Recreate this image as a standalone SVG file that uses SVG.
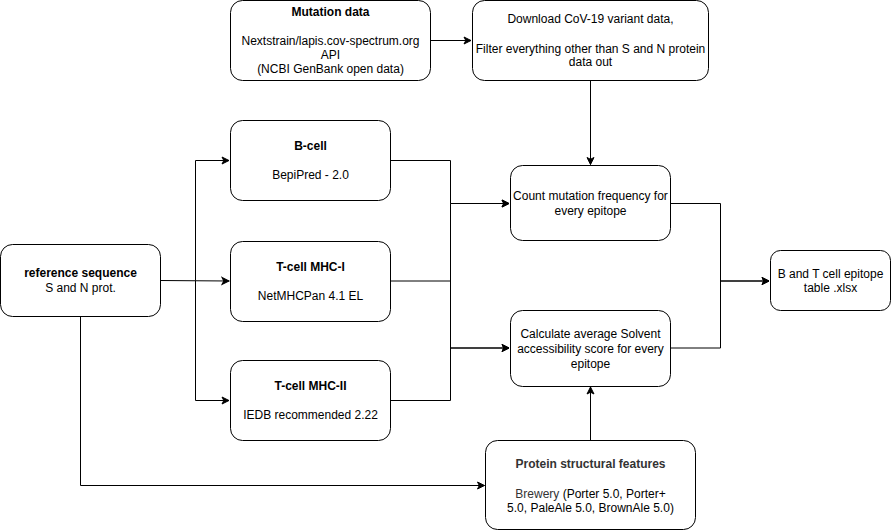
<svg xmlns="http://www.w3.org/2000/svg" width="892" height="531" viewBox="0 0 892 531">
<defs>
<marker id="ah" markerWidth="10" markerHeight="10" refX="8" refY="5" orient="auto" markerUnits="userSpaceOnUse">
<path d="M1,1.5 L8,5 L1,8.5 L2.8,5 Z" fill="#000" stroke="#000" stroke-width="1"/>
</marker>
<style>
.box{fill:#fff;stroke:#000;stroke-width:1}
text{font-family:"Liberation Sans",Arial,Helvetica,sans-serif;font-size:12px;fill:#000;text-anchor:middle}
.b{font-weight:bold}
.g{fill:#333}
.c{fill:none;stroke:#000;stroke-width:1}
</style>
</defs>
<rect width="892" height="531" fill="#fff"/>
<g id="connectors">
<path class="c" d="M430,40.5 H471" marker-end="url(#ah)"/>
<path class="c" d="M590.5,80.5 V164.5" marker-end="url(#ah)"/>
<path class="c" d="M160,280.5 L229,281" marker-end="url(#ah)"/>
<path class="c" d="M195.5,280.5 V160.5 H229" marker-end="url(#ah)"/>
<path class="c" d="M195.5,280.5 V400.5 H229" marker-end="url(#ah)"/>
<path class="c" d="M80.5,316 V485.5 H484.5" marker-end="url(#ah)"/>
<path class="c" d="M390,160.5 H450.5 V203.5 H509" marker-end="url(#ah)"/>
<path class="c" d="M390,281 H450.5 V203.5 H509" marker-end="url(#ah)"/>
<path class="c" d="M450.5,281 V348 H509" marker-end="url(#ah)"/>
<path class="c" d="M390,400.5 H450.5 V348 H509" marker-end="url(#ah)"/>
<path class="c" d="M670.5,203.5 H720.5 V281 H769" marker-end="url(#ah)"/>
<path class="c" d="M670.5,348 H720.5 V281 H769" marker-end="url(#ah)"/>
<path class="c" d="M590.5,440 V387" marker-end="url(#ah)"/>
</g>
<g id="mutation">
<rect class="box" x="230.5" y="0.5" width="200" height="80" rx="12"/>
<text class="b" x="330.5" y="16">Mutation data</text>
<text x="330.5" y="45">Nextstrain/lapis.cov-spectrum.org</text>
<text x="330.5" y="59">API</text>
<text x="330.5" y="73">(NCBI GenBank open data)</text>
</g>
<g id="download">
<rect class="box" x="472.5" y="0.5" width="236" height="80" rx="12"/>
<text x="590.5" y="23">Download CoV-19 variant data,</text>
<text x="590.5" y="52.5">Filter everything other than S and N protein</text>
<text x="590.5" y="66">data out</text>
</g>
<g id="bcell">
<rect class="box" x="230.5" y="120.5" width="160" height="80" rx="12"/>
<text class="b" x="310.5" y="150">B-cell</text>
<text x="310.5" y="179">BepiPred - 2.0</text>
</g>
<g id="mhc1">
<rect class="box" x="230.5" y="241.5" width="160" height="80" rx="12"/>
<text class="b" x="310.5" y="271">T-cell MHC-I</text>
<text x="310.5" y="300">NetMHCPan 4.1 EL</text>
</g>
<g id="mhc2">
<rect class="box" x="230.5" y="360.5" width="160" height="80" rx="12"/>
<text class="b" x="310.5" y="390">T-cell MHC-II</text>
<text x="310.5" y="418.5">IEDB recommended 2.22</text>
</g>
<g id="reference">
<rect class="box" x="0.5" y="244.5" width="160" height="72" rx="12"/>
<text class="b" x="80.5" y="277">reference sequence</text>
<text x="80.5" y="292">S and N prot.</text>
</g>
<g id="count">
<rect class="box" x="510.5" y="165.5" width="160" height="75" rx="12"/>
<text x="590.5" y="200">Count mutation frequency for</text>
<text x="590.5" y="215">every epitope</text>
</g>
<g id="calculate">
<rect class="box" x="510.5" y="310.5" width="160" height="76" rx="12"/>
<text x="590.5" y="338">Calculate average Solvent</text>
<text x="590.5" y="353">accessibility score for every</text>
<text x="590.5" y="367.5">epitope</text>
</g>
<g id="output">
<rect class="box" x="770.5" y="250.5" width="120" height="60" rx="10"/>
<text x="830.5" y="277.5">B and T cell epitope</text>
<text x="830.5" y="292">table .xlsx</text>
</g>
<g id="protein">
<rect class="box" x="485.5" y="440.5" width="210" height="89" rx="12"/>
<text class="b g" x="590.5" y="467.5">Protein structural features</text>
<text x="590.5" y="497.5"><tspan class="g">Brewery</tspan> (Porter 5.0, Porter+</text>
<text x="590.5" y="511.5">5.0, PaleAle 5.0, BrownAle 5.0)</text>
</g>
</svg>
